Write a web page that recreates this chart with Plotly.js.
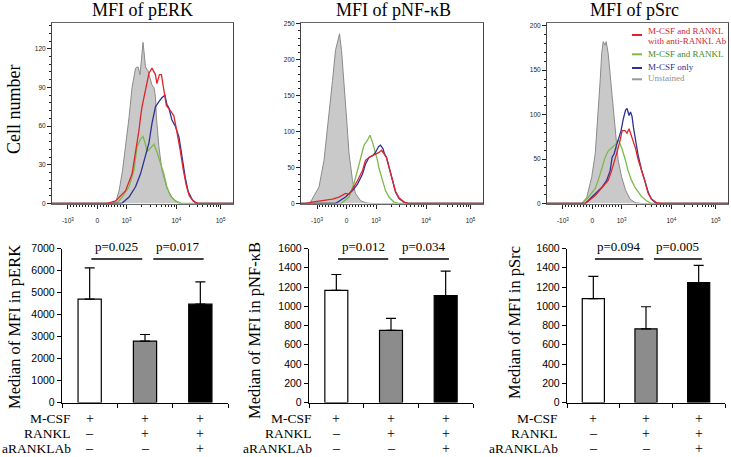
<!DOCTYPE html>
<html><head><meta charset="utf-8">
<script src="https://cdn.plot.ly/plotly-3.0.1.min.js"></script>
<style>html,body{margin:0;padding:0;background:#fff}#chart{width:731px;height:457px}</style>
</head><body><div id="chart"></div>
<script>
// ---------- DATA ----------
// Histogram x values are in display (biexponential) units: 10^3 -> 3, 10^4 -> 4
const histTitles = ['MFI of pERK', 'MFI of pNF-κB', 'MFI of pSrc'];
const seriesNames = ['M-CSF and RANKL with anti-RANKL Ab', 'M-CSF and RANKL', 'M-CSF only', 'Unstained'];
const histTickText = ['-10<sup>3</sup>', '0', '10<sup>3</sup>', '10<sup>4</sup>', '10<sup>5</sup>'];

const erkUnstained = [[2.70,0],[2.78,1],[2.85,10],[2.92,26],[2.98,44],[3.05,67],[3.11,90],[3.18,105],[3.23,106],[3.27,100],[3.30,112],[3.33,125],[3.35,118],[3.38,106],[3.43,103],[3.48,96],[3.51,92],[3.55,90],[3.58,83],[3.60,67],[3.65,44],[3.71,26],[3.81,12],[3.91,5],[4.05,0]];
const erkGreen = [[2.80,0],[2.91,5],[3.05,13],[3.15,26],[3.21,44],[3.28,50],[3.33,52],[3.38,46],[3.41,40],[3.48,43],[3.55,46],[3.61,40],[3.68,32],[3.75,23],[3.81,13],[3.88,6],[3.98,2],[4.12,0]];
const erkBlue = [[2.90,0],[3.05,5],[3.18,13],[3.28,23],[3.38,36],[3.45,47],[3.51,62],[3.58,75],[3.65,79],[3.71,82],[3.77,84],[3.81,77],[3.85,74],[3.91,65],[3.98,60],[4.05,52],[4.08,45],[4.12,34],[4.18,20],[4.24,9],[4.32,3],[4.40,0]];
const erkRed = [[2.60,0],[2.78,2],[2.98,10],[3.11,23],[3.18,39],[3.25,57],[3.28,67],[3.31,75],[3.38,88],[3.45,101],[3.51,105],[3.58,100],[3.61,93],[3.66,100],[3.70,100],[3.75,86],[3.80,76],[3.88,72],[3.95,68],[4.00,58],[4.05,48],[4.08,41],[4.14,26],[4.20,14],[4.26,6],[4.34,2],[4.44,0]];

const nfkbUnstained = [[1.60,0],[1.69,2],[1.86,23],[1.96,60],[2.06,120],[2.13,171],[2.19,213],[2.25,234],[2.27,236],[2.31,213],[2.36,171],[2.41,120],[2.46,70],[2.53,32],[2.59,14],[2.69,4],[2.79,1],[2.90,0]];
const nfkbGreen = [[2.30,0],[2.46,9],[2.56,28],[2.63,46],[2.69,64],[2.76,81],[2.83,88],[2.88,95],[2.93,85],[2.98,74],[3.03,60],[3.06,49],[3.13,32],[3.19,18],[3.26,9],[3.36,2],[3.46,0]];
const nfkbBlue = [[2.19,0],[2.39,9],[2.53,18],[2.63,27],[2.73,41],[2.79,55],[2.86,64],[2.94,67],[2.99,71],[3.05,79],[3.09,81],[3.14,76],[3.17,69],[3.21,64],[3.26,51],[3.33,32],[3.39,16],[3.46,7],[3.56,2],[3.66,0]];
const nfkbRed = [[1.60,0],[1.72,2],[1.90,4],[2.13,6],[2.26,9],[2.39,14],[2.46,13],[2.53,20],[2.63,32],[2.73,46],[2.79,60],[2.86,64],[2.94,67],[3.01,69],[3.06,71],[3.11,74],[3.16,69],[3.21,64],[3.26,51],[3.33,33],[3.39,17],[3.46,8],[3.56,2],[3.66,0]];

const srcUnstained = [[2.20,0],[2.30,7],[2.40,30],[2.47,56],[2.52,94],[2.57,139],[2.60,169],[2.63,182],[2.67,178],[2.69,182],[2.73,169],[2.78,139],[2.83,101],[2.88,71],[2.93,49],[3.00,30],[3.08,15],[3.17,5],[3.27,1],[3.40,0]];
const srcGreen = [[2.20,0],[2.33,7],[2.47,17],[2.54,28],[2.60,38],[2.67,52],[2.73,59],[2.80,62],[2.87,66],[2.94,71],[3.00,63],[3.07,50],[3.13,37],[3.20,26],[3.27,18],[3.40,8],[3.50,3],[3.60,0]];
const srcBlue = [[2.27,0],[2.47,11],[2.60,18],[2.70,26],[2.77,37],[2.81,52],[2.85,56],[2.89,64],[2.93,71],[2.99,82],[3.03,94],[3.08,105],[3.11,107],[3.15,99],[3.18,103],[3.21,98],[3.24,85],[3.28,72],[3.33,55],[3.40,38],[3.47,26],[3.54,12],[3.60,5],[3.70,0]];
const srcRed = [[2.27,0],[2.47,9],[2.60,17],[2.73,26],[2.80,37],[2.87,49],[2.92,60],[2.97,71],[3.01,82],[3.07,82],[3.11,79],[3.15,84],[3.19,77],[3.23,71],[3.28,62],[3.33,50],[3.40,38],[3.47,25],[3.53,12],[3.60,5],[3.70,1],[3.80,0]];

const histYMax = [140, 251, 203];
const histYDtick = [30, 50, 50];

// Bar charts
const barGroups = ['M-CSF', 'M-CSF + RANKL', 'M-CSF + RANKL + aRANKLAb'];
const erkMedian = [4700, 2790, 4470];
const erkErr = [1420, 300, 1015];
const nfkbMedian = [1165, 750, 1110];
const nfkbErr = [165, 125, 255];
const srcMedian = [1080, 765, 1245];
const srcErr = [230, 230, 180];
const barYMax = [7000, 1600, 1600];
const barYDtick = [1000, 200, 200];
const barTitles = ['Median of MFI in pERK', 'Median of MFI in pNF-κB', 'Median of MFI in pSrc'];
const pValues = [['p=0.025', 'p=0.017'], ['p=0.012', 'p=0.034'], ['p=0.094', 'p=0.005']];
const rowLabels = ['M-CSF', 'RANKL', 'aRANKLAb'];
const mcsfSigns = ['+', '+', '+'];
const ranklSigns = ['–', '+', '+'];
const abSigns = ['–', '–', '+'];

// ---------- STYLE / LAYOUT ----------
const W = 731, H = 457;
const px = v => v / W, py = v => 1 - v / H;
const SERIF = "'Liberation Serif', 'Times New Roman', Times, serif";
const SANS = "'Liberation Sans', Arial, sans-serif";
const colRed = '#e0242c', colGreen = '#7cb84a', colBlue = '#2e3192', colGray = '#8a8a8a';

function disp(v) {
  if (Math.abs(v) <= 1000) return 2.41 + v * 0.00059;
  if (v <= 1e4) return Math.log10(v);
  return 4 + (Math.log10(v) - 4) * 0.89;
}
const majorX = [-1000, 0, 1000, 1e4, 1e5].map(disp);
const minorX = [];
for (let k = -9; k <= 9; k++) if (k !== 0) minorX.push(disp(k * 100));
for (let k = 2; k <= 9; k++) { minorX.push(disp(k * 1000)); minorX.push(disp(k * 10000)); }

const histData = [
  [erkUnstained, erkGreen, erkBlue, erkRed],
  [nfkbUnstained, nfkbGreen, nfkbBlue, nfkbRed],
  [srcUnstained, srcGreen, srcBlue, srcRed]
];
const barData = [[erkMedian, erkErr], [nfkbMedian, nfkbErr], [srcMedian, srcErr]];

const histDomX = [[52, 233], [301, 483], [547, 728]];
const histDomY = [23, 203.5];
const barDomX = [[62, 228], [309, 473], [567, 725]];
const barDomY = [248.5, 402.5];
const XMIN = 1.5, XMAX = 5.14;

const traces = [];
const layout = {
  width: W, height: H, margin: {l: 0, r: 0, t: 0, b: 0},
  paper_bgcolor: '#fff', plot_bgcolor: 'rgba(0,0,0,0)', showlegend: false,
  font: {family: SERIF},
  annotations: [], shapes: []
};

const lineCols = [null, colGreen, colBlue, colRed];
histData.forEach((set, i) => {
  const n = i + 1, xs = n === 1 ? '' : n, ax = 'x' + xs, ay = 'y' + xs;
  set.forEach((s, j) => {
    const pts = [[XMIN, 0]].concat(s, [[XMAX, 0]]);
    const tr = {
      type: 'scatter', mode: 'lines', xaxis: ax, yaxis: ay,
      x: pts.map(p => p[0]), y: pts.map(p => p[1]),
      name: seriesNames[3 - j], hoverinfo: 'skip', cliponaxis: false
    };
    if (j === 0) { tr.fill = 'tozeroy'; tr.fillcolor = '#c9c9c9'; tr.line = {color: colGray, width: 1}; }
    else tr.line = {color: lineCols[j], width: 1.3};
    traces.push(tr);
  });
  layout['xaxis' + xs] = {
    domain: [px(histDomX[i][0]), px(histDomX[i][1])], anchor: ay, range: [XMIN, XMAX],
    tickmode: 'array', tickvals: majorX, ticktext: histTickText, ticklabelstandoff: 7,
    ticks: 'outside', ticklen: 4, tickwidth: 1, tickcolor: '#222',
    minor: {tickmode: 'array', tickvals: minorX, ticks: 'outside', ticklen: 2.5, tickcolor: '#222', showgrid: false},
    showline: true, linecolor: '#666', linewidth: 1, mirror: true,
    showgrid: false, zeroline: false, tickfont: {family: SANS, size: 6.5, color: '#222'}
  };
  layout['yaxis' + xs] = {
    domain: [py(histDomY[1]), py(histDomY[0])], anchor: ax, range: [0, histYMax[i]],
    dtick: histYDtick[i], ticks: 'outside', ticklen: 4, tickcolor: '#222',
    minor: {dtick: histYDtick[i] / 5, ticks: 'outside', ticklen: 2.5, tickcolor: '#222', showgrid: false},
    showline: true, linecolor: '#444', linewidth: 1, mirror: true,
    showgrid: false, zeroline: false, tickfont: {family: SANS, size: 6.5, color: '#222'}
  };
  layout.annotations.push({
    xref: 'paper', yref: 'paper', x: px([142, 393, 634][i]), y: py(10), xanchor: 'center', yanchor: 'middle',
    text: histTitles[i], showarrow: false, font: {family: SERIF, size: 18, color: '#000'}
  });
});

layout.annotations.push({
  xref: 'paper', yref: 'paper', x: px(14), y: py(110), xanchor: 'center', yanchor: 'middle',
  text: 'Cell number', textangle: -90, showarrow: false, font: {family: SERIF, size: 18, color: '#000'}
});

// legend (panel 3)
const legItems = [
  {lines: ['M-CSF and RANKL', 'with anti-RANKL Ab'], ty: [30.7, 40.7], sy: 35, col: colRed, tc: '#d0282e'},
  {lines: ['M-CSF and RANKL'], ty: [53.5], sy: 54.3, col: colGreen, tc: '#3f8a2a'},
  {lines: ['M-CSF only'], ty: [66.7], sy: 68, col: colBlue, tc: '#2e3192'},
  {lines: ['Unstained'], ty: [78.3], sy: 79.3, col: '#999', tc: '#8f8f8f'}
];
legItems.forEach(it => {
  layout.shapes.push({type: 'line', xref: 'paper', yref: 'paper', x0: px(632), x1: px(642), y0: py(it.sy), y1: py(it.sy), line: {color: it.col, width: 2}});
  it.lines.forEach((t, k) => layout.annotations.push({
    xref: 'paper', yref: 'paper', x: px(646), y: py(it.ty[k]), xanchor: 'left', yanchor: 'middle',
    text: t, showarrow: false, font: {family: SERIF, size: 9, color: it.tc}
  }));
});

// bar charts
const barFill = ['#ffffff', '#8c8c8c', '#000000'];
barData.forEach((bd, i) => {
  const n = i + 4, ax = 'x' + n, ay = 'y' + n;
  traces.push({
    type: 'bar', xaxis: ax, yaxis: ay, x: [0, 1, 2], y: bd[0], width: 0.42,
    name: barTitles[i], text: barGroups, hoverinfo: 'skip', textposition: 'none',
    marker: {color: barFill, line: {color: '#000', width: 1.2}},
    error_y: {type: 'data', symmetric: false, array: bd[1], arrayminus: [0, 0, 0], color: '#000', thickness: 1.2, width: 5}
  });
  layout['xaxis' + n] = {
    domain: [px(barDomX[i][0]), px(barDomX[i][1])], anchor: ay, range: [-0.5, 2.5],
    tickmode: 'array', tickvals: [-0.5, 0.5, 1.5, 2.5], ticktext: [' ', ' ', ' ', ' '],
    ticks: 'outside', ticklen: 4, tickcolor: '#000', showline: true, linecolor: '#000', linewidth: 1.2,
    showgrid: false, zeroline: false, showticklabels: false
  };
  layout['yaxis' + n] = {
    domain: [py(barDomY[1]), py(barDomY[0])], anchor: ax, range: [0, barYMax[i]], dtick: barYDtick[i],
    ticks: 'outside', ticklen: 4, tickcolor: '#000', showline: true, linecolor: '#000', linewidth: 1.2,
    showgrid: false, zeroline: false, tickfont: {family: SANS, size: 10.5, color: '#000'}
  };
  layout.annotations.push({
    xref: 'paper', yref: 'paper', x: px([14, 254, 514][i]), y: py([327, 331, 323][i]), xanchor: 'center', yanchor: 'middle',
    text: barTitles[i], textangle: -90, showarrow: false, font: {family: SERIF, size: 16.5, color: '#000'}
  });
  [[0.03, 0.95], [1.15, 2.06]].forEach((seg, k) => {
    layout.shapes.push({type: 'line', xref: ax, yref: 'paper', x0: seg[0], x1: seg[1], y0: py(259), y1: py(259), line: {color: '#000', width: 1.5}});
    layout.annotations.push({
      xref: ax, yref: 'paper', x: (seg[0] + seg[1]) / 2, y: py(256), xanchor: 'center', yanchor: 'bottom',
      text: pValues[i][k], showarrow: false, font: {family: SERIF, size: 13, color: '#000'}
    });
  });
  const rowY = [418.5, 433.5, 448.5];
  const signs = [mcsfSigns, ranklSigns, abSigns];
  rowLabels.forEach((lab, r) => {
    layout.annotations.push({
      xref: 'paper', yref: 'paper', x: px([73, 314, 560][i]), y: py(rowY[r]), xanchor: 'right', yanchor: 'middle',
      text: lab, showarrow: false, font: {family: SERIF, size: 13.5, color: '#000'}
    });
    signs[r].forEach((s, c) => layout.annotations.push({
      xref: ax, yref: 'paper', x: c, y: py(rowY[r]), xanchor: 'center', yanchor: 'middle',
      text: s, showarrow: false, font: {family: SERIF, size: 14, color: '#000'}
    }));
  });
});

Plotly.newPlot('chart', traces, layout, {staticPlot: true, displayModeBar: false});
</script></body></html>
